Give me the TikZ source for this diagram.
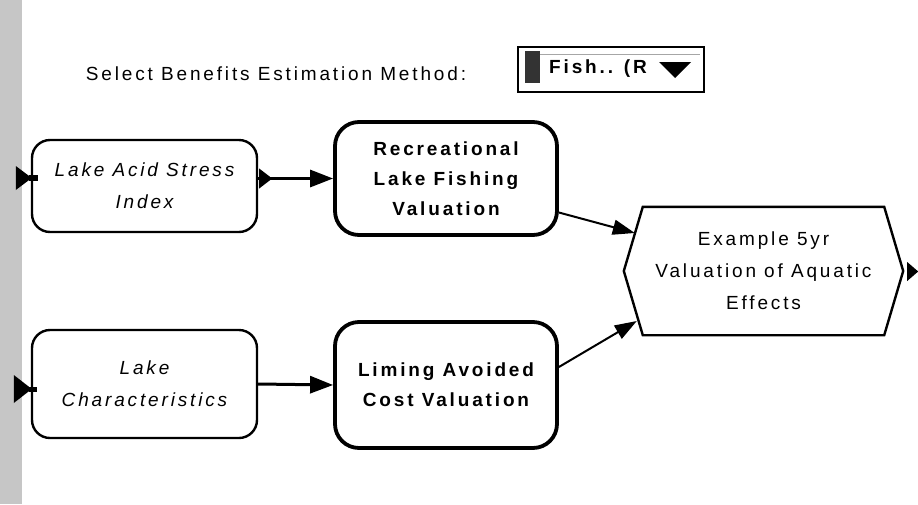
\documentclass[tikz,border=0pt]{standalone}
\usepackage{fontspec}
\setmainfont{Liberation Sans}[LetterSpace=15]
\usetikzlibrary{arrows.meta,calc}
\begin{document}
\begin{tikzpicture}[x=1pt,y=-1pt,
  txt/.style={font=\fontsize{19}{31}\selectfont, align=center, inner sep=0pt},
  varbox/.style={txt, draw, line width=2.4pt, rounded corners=18pt, font=\fontsize{19}{32}\selectfont\itshape},
  modbox/.style={txt, draw, line width=3.8pt, rounded corners=24pt, font=\fontsize{19}{30}\selectfont\bfseries},
  conn/.style={line width=3pt, -{Triangle[length=23pt,width=17pt]}},
  thin conn/.style={line width=2pt, -{Triangle[length=22pt,width=15pt]}},
  marker/.style={fill=black, draw=none}
]
\useasboundingbox (0,0) rectangle (918,504);
% scan strip on the left edge
\fill[gray!45] (0,0) rectangle (22,504);

% title and selector
\node[txt] (title) at (276,74) {Select Benefits Estimation Method:};
\node[draw, line width=2.8pt, minimum width=186pt, minimum height=45pt, inner sep=0pt] (sel) at (611,69.5) {};
\fill[black!80] (525,51) rectangle (540,83);
\draw[gray!70, line width=0.8pt] (540,54) -- (700,54);
\node[txt, font=\fontsize{19}{31}\selectfont\bfseries] (seltxt) at (598,69) {Fish.. (R};
\fill (659,62) -- (691,62) -- (675,78) -- cycle;

% nodes
\node[varbox, minimum width=225pt, minimum height=92pt] (A) at (144.5,186) {Lake Acid Stress\\Index};
\node[varbox, minimum width=225pt, minimum height=108pt] (D) at (144.5,384) {Lake\\Characteristics};
\node[modbox, minimum width=222pt, minimum height=113pt] (B) at (446,178.5) {Recreational\\Lake Fishing\\Valuation};
\node[modbox, minimum width=222pt, minimum height=126pt] (E) at (446,385) {Liming Avoided\\Cost Valuation};
\node[txt, minimum width=279pt, minimum height=128pt, font=\fontsize{19}{32}\selectfont] (C) at (763.5,271) {Example 5yr\\Valuation of Aquatic\\Effects};
\draw[line width=2.4pt, line join=miter]
  (C.west) -- ([xshift=19pt]C.north west) -- ([xshift=-19pt]C.north east)
  -- (C.east) -- ([xshift=-19pt]C.south east) -- ([xshift=19pt]C.south west) -- cycle;

% input / output markers
\fill[marker] ([xshift=-15pt,yshift=20pt]A.west) -- ([xshift=1pt,yshift=8pt]A.west) -- ([xshift=-15pt,yshift=-4pt]A.west) -- cycle;
\fill[marker] ([xshift=-2pt,yshift=11pt]A.west) rectangle ([xshift=7pt,yshift=5pt]A.west);
\fill[marker] ([xshift=-17pt,yshift=9pt]D.west) -- ([xshift=1pt,yshift=-5pt]D.west) -- ([xshift=-17pt,yshift=-19pt]D.west) -- cycle;
\fill[marker] ([xshift=-2pt,yshift=-3pt]D.west) rectangle ([xshift=6pt,yshift=-8pt]D.west);
\fill[marker] ([xshift=1pt,yshift=17.5pt]A.east) -- ([xshift=14pt,yshift=7.5pt]A.east) -- ([xshift=1pt,yshift=-2.5pt]A.east) -- cycle;
\fill[marker] ([xshift=4pt,yshift=9pt]C.east) -- ([xshift=15pt,yshift=-0.5pt]C.east) -- ([xshift=4pt,yshift=-10pt]C.east) -- cycle;

% connectors
\draw[conn] (A.east |- B.west) -- (B.west);
\draw[conn] (D.east) -- (E.west);
\draw[thin conn] ([yshift=-34pt]B.east) -- ([xshift=11pt,yshift=38pt]C.west);
\draw[thin conn] ([yshift=18pt]E.east) -- ([xshift=13pt,yshift=-50pt]C.west);
\end{tikzpicture}
\end{document}
